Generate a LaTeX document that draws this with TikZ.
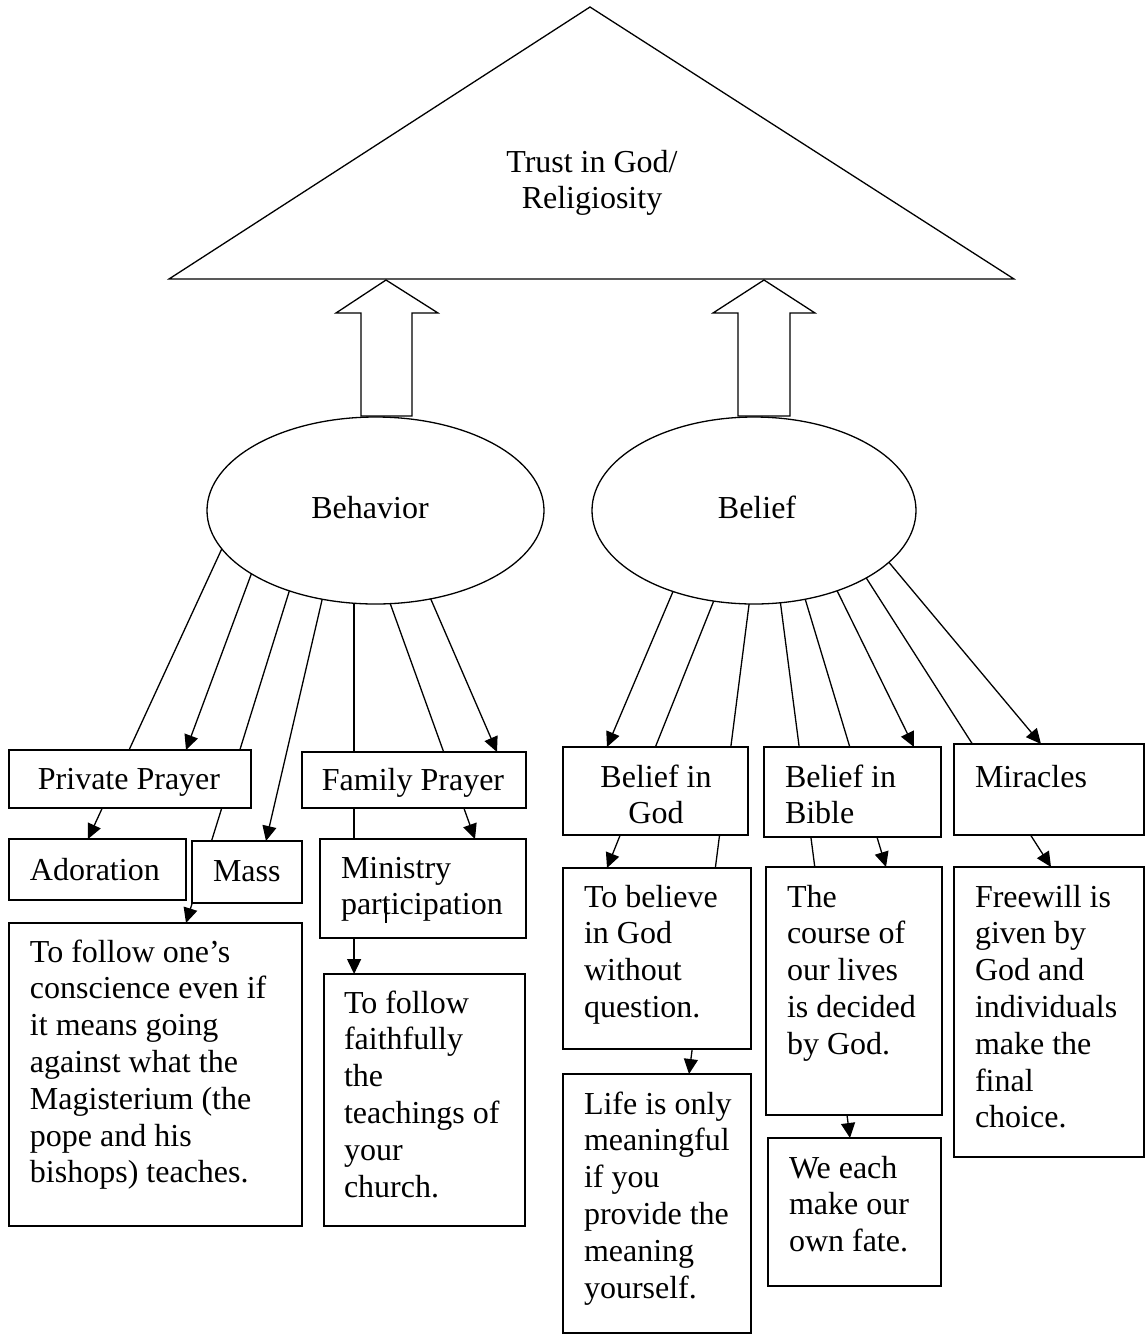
\documentclass[tikz,border=0pt]{standalone}
\usepackage{fontspec}
\setmainfont{Liberation Serif}
\usetikzlibrary{arrows.meta,calc,backgrounds,shapes.geometric}
\newcommand\firstst{\rule{0pt}{25pt}}
\begin{document}
\begin{tikzpicture}[x=1pt,y=-1pt,
  box/.style={draw, fill=white, line width=1.7pt, inner sep=0pt, outer sep=0pt, anchor=north west},
  oval/.style={ellipse, draw, fill=white, line width=1.3pt, inner sep=0pt, outer sep=0pt, minimum height=187pt},
  txt/.style={inner sep=0pt, outer sep=0pt, font=\fontsize{32}{36.8}\selectfont},
  ml/.style={txt, anchor=north west, align=left},
  conn/.style={line width=1.3pt},
  arr/.style={conn, -{Triangle[length=15pt,width=14pt]}},
  outl/.style={line width=1.3pt, line join=miter}]
\useasboundingbox (0,0) rectangle (1145,1334);
\begin{scope}[on background layer]
  \fill[white] (0,0) rectangle (1145,1334);
\end{scope}

% top triangle and block arrows
\draw[outl] (169,279) -- (590,7) -- (1014,279) -- cycle;
\node[txt, anchor=north, align=center] (trust) at (592,147) {\firstst Trust in God/\\Religiosity};
\draw[outl] (361,416) -- (361,313) -- (336,313) -- (386,280) -- (438,313) -- (412,313) -- (412,416) -- cycle;
\draw[outl] (738,416) -- (738,313) -- (713,313) -- (764,280) -- (815,313) -- (790,313) -- (790,416) -- cycle;

% ellipses
\node[oval, minimum width=337pt] (bh) at (375.5,510.5) {};
\node[txt, anchor=base] (bht) at (370,518) {Behavior};
\node[oval, minimum width=324pt] (bl) at (754,510.5) {};
\node[txt, anchor=base] (blt) at (757,518) {Belief};

% behavior boxes
\node[box, minimum width=242pt, minimum height=58pt] (pp) at (9,750) {};
\node[txt, anchor=base] (ppt) at (129,789) {Private Prayer};
\node[box, minimum width=177pt, minimum height=61pt] (adr) at (9,839) {};
\node[txt, anchor=base west] (adrt) at (30,880) {Adoration};
\node[box, minimum width=110pt, minimum height=62pt] (mass) at (192,841) {};
\node[txt, anchor=base west] (masst) at (213,881) {Mass};
\node[box, minimum width=224pt, minimum height=56pt] (fp) at (302,752) {};
\node[txt, anchor=base] (fpt) at (413,790) {Family Prayer};
\node[box, minimum width=206pt, minimum height=99pt] (min) at (320,839) {};
\node[ml] (mint) at (341,853) {\firstst Ministry\\participation};
\draw[line width=1.2pt] (386,903) -- (386,923);
\node[box, minimum width=293pt, minimum height=303pt] (con) at (9,923) {};
\node[ml] (cont) at (30,937) {\firstst To follow one’s\\conscience even if\\it means going\\against what the\\Magisterium (the\\pope and his\\bishops) teaches.};
\node[box, minimum width=201pt, minimum height=252pt] (fa) at (324,974) {};
\node[ml] (fat) at (344,988) {\firstst To follow\\faithfully\\the\\teachings of\\your\\church.};

% belief boxes
\node[box, minimum width=185pt, minimum height=88pt] (god) at (563,747) {};
\node[txt, anchor=north, align=center] (godt) at (656,762) {\firstst Belief in\\God};
\node[box, minimum width=177pt, minimum height=90pt] (bib) at (764,747) {};
\node[ml] (bibt) at (785,762) {\firstst Belief in\\Bible};
\node[box, minimum width=190pt, minimum height=91pt] (mir) at (954,744) {};
\node[txt, anchor=base west] (mirt) at (975,787) {Miracles};
\node[box, minimum width=188pt, minimum height=181pt] (tb) at (563,868) {};
\node[ml] (tbt) at (584,882) {\firstst To believe\\in God\\without\\question.};
\node[box, minimum width=176pt, minimum height=248pt] (cou) at (766,867) {};
\node[ml] (cout) at (787,882) {\firstst The\\course of\\our lives\\is decided\\by God.};
\node[box, minimum width=190pt, minimum height=290pt] (fw) at (954,867) {};
\node[ml] (fwt) at (975,882) {\firstst Freewill is\\given by\\God and\\individuals\\make the\\final\\choice.};
\node[box, minimum width=188pt, minimum height=259pt] (life) at (563,1074) {};
\node[ml] (lifet) at (584,1089) {\firstst Life is only\\meaningful\\if you\\provide the\\meaning\\yourself.};
\node[box, minimum width=173pt, minimum height=148pt] (we) at (768,1138) {};
\node[ml] (wet) at (789,1153) {\firstst We each\\make our\\own fate.};

% connectors (behind the boxes)
\begin{scope}[on background layer]
  \draw[arr] (bh.-166.6) -- ($(adr.north west)+(79,0)$);
  \draw[arr] (bh.-153.5) -- ($(pp.north west)+(177,0)$);
  \draw[arr] (bh.-137.4) -- ($(con.north west)+(177,0)$);
  \draw[arr] (bh.-121.7) -- ($(mass.north west)+(74,0)$);
  \draw[arr] (bh.-103.5) -- (bh.-103.5 |- fa.north);
  \draw[arr] (bh.-81.8) -- ($(min.north west)+(155,0)$);
  \draw[arr] (bh.-58.3) -- ($(fp.north west)+(195,0)$);

  \draw[arr] (bl.-135.9) -- ($(god.north west)+(44,0)$);
  \draw[arr] (bl.-114.1) -- ($(tb.north west)+(44,0)$);
  \draw[arr] (bl.-93.6) -- ($(life.north west)+(126,0)$);
  \draw[arr] (bl.-74.5) -- ($(we.north west)+(82,0)$);
  \draw[arr] (bl.-60.4) -- ($(cou.north west)+(120,0)$);
  \draw[arr] (bl.-44.5) -- ($(bib.north west)+(150,0)$);
  \draw[arr] (bl.-31.6) -- ($(fw.north west)+(97,0)$);
  \draw[arr] (bl.-21.8) -- ($(mir.north west)+(87,0)$);
\end{scope}
\end{tikzpicture}
\end{document}
